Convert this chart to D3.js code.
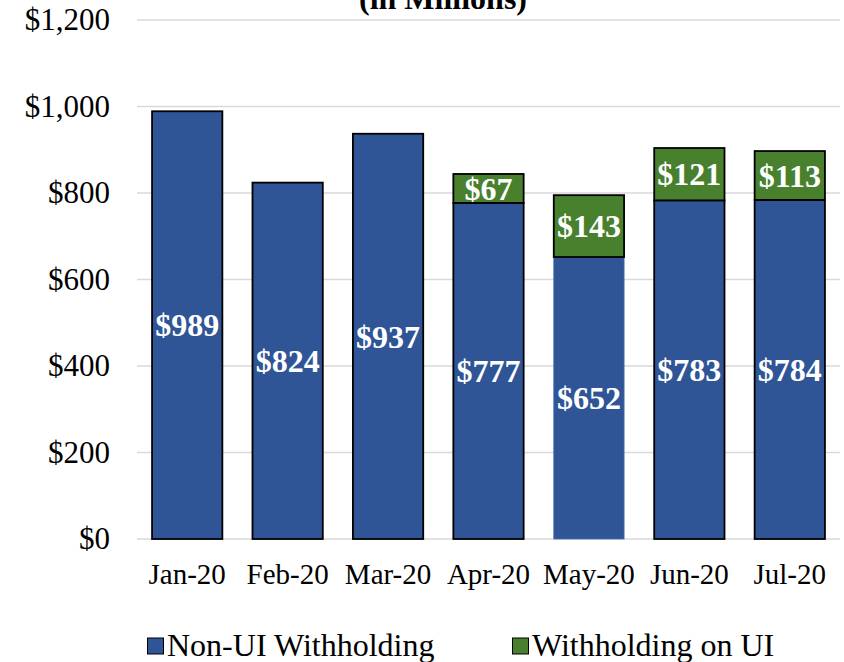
<!DOCTYPE html>
<html>
<head>
<meta charset="utf-8">
<script src="https://cdn.jsdelivr.net/npm/d3@7"></script>
<style>
  body { margin: 0; background: #fff; }
  text { font-family: "Liberation Serif", "Times New Roman", serif; }
</style>
</head>
<body>
<div id="chart"></div>
<script>
const months = ["Jan-20", "Feb-20", "Mar-20", "Apr-20", "May-20", "Jun-20", "Jul-20"];
const nonUI = [989, 824, 937, 777, 652, 783, 784];
const onUI = [0, 0, 0, 67, 143, 121, 113];
const yTicks = [0, 200, 400, 600, 800, 1000, 1200];
const seriesNames = ["Non-UI Withholding", "Withholding on UI"];
const colors = ["#2f5597", "#48802e"];

const width = 844,
  height = 662;

const svg = d3
  .select("#chart")
  .append("svg")
  .attr("width", width)
  .attr("height", height);

const x = d3.scaleBand().domain(months).range([137, 840]).paddingInner(0.3).paddingOuter(0.15);
const y = d3.scaleLinear().domain([0, 1200]).range([539, 20]);

// title (the reference shows it cut off at the top edge)
svg
  .append("text")
  .attr("x", 443)
  .attr("y", 9)
  .attr("text-anchor", "middle")
  .style("font-size", "32px")
  .style("font-weight", "bold")
  .text("(in Millions)");

// gridlines
svg
  .selectAll(".grid")
  .data(yTicks)
  .enter()
  .append("line")
  .attr("class", "grid")
  .attr("x1", 137)
  .attr("x2", 840)
  .attr("y1", (d) => y(d))
  .attr("y2", (d) => y(d))
  .attr("stroke", "#d9d9d9")
  .attr("stroke-width", 1.5);

// y labels
svg
  .selectAll(".ylab")
  .data(yTicks)
  .enter()
  .append("text")
  .attr("class", "ylab")
  .attr("x", 110)
  .attr("y", (d) => y(d))
  .attr("dy", "0.33em")
  .attr("text-anchor", "end")
  .style("font-size", "31px")
  .text((d) => "$" + d3.format(",")(d));

// stacked bars
const rows = months.map((m, i) => ({ month: m, nonUI: nonUI[i], onUI: onUI[i] }));
const stack = d3.stack().keys(["nonUI", "onUI"])(rows);

stack.forEach(function (layer, li) {
  const g = svg.append("g");
  g.selectAll("rect")
    .data(layer)
    .enter()
    .append("rect")
    .attr("x", (d) => x(d.data.month))
    .attr("width", x.bandwidth())
    .attr("y", (d) => y(d[1]))
    .attr("height", (d) => y(d[0]) - y(d[1]))
    .attr("fill", colors[li])
    .attr("stroke", (d) => (li === 0 && d.data.month === "May-20" ? "#4a6fb0" : "#000"))
    .attr("stroke-width", (d) => (li === 0 && d.data.month === "May-20" ? 0.8 : 1.8));

  g.selectAll("text")
    .data(layer.filter((d) => d[1] - d[0] > 0))
    .enter()
    .append("text")
    .attr("x", (d) => x(d.data.month) + x.bandwidth() / 2)
    .attr("y", (d) => y((d[0] + d[1]) / 2))
    .attr("dy", "0.35em")
    .attr("text-anchor", "middle")
    .style("font-size", "32px")
    .style("font-weight", "bold")
    .attr("fill", "#fff")
    .text((d) => "$" + (d[1] - d[0]));
});

// x labels
svg
  .selectAll(".xlab")
  .data(months)
  .enter()
  .append("text")
  .attr("class", "xlab")
  .attr("x", (d) => x(d) + x.bandwidth() / 2)
  .attr("y", 584)
  .attr("text-anchor", "middle")
  .style("font-size", "29px")
  .text((d) => d);

// legend
const legendX = [147, 512];
const legend = svg
  .selectAll(".legend")
  .data(seriesNames)
  .enter()
  .append("g")
  .attr("class", "legend")
  .attr("transform", (d, i) => `translate(${legendX[i]}, 0)`);

legend
  .append("rect")
  .attr("x", 0.5)
  .attr("y", 638)
  .attr("width", 16)
  .attr("height", 16)
  .attr("fill", (d, i) => colors[i])
  .attr("stroke", "#000")
  .attr("stroke-width", 1);

legend
  .append("text")
  .attr("x", 20)
  .attr("y", 656)
  .style("font-size", "32px")
  .text((d) => d);
</script>
</body>
</html>
